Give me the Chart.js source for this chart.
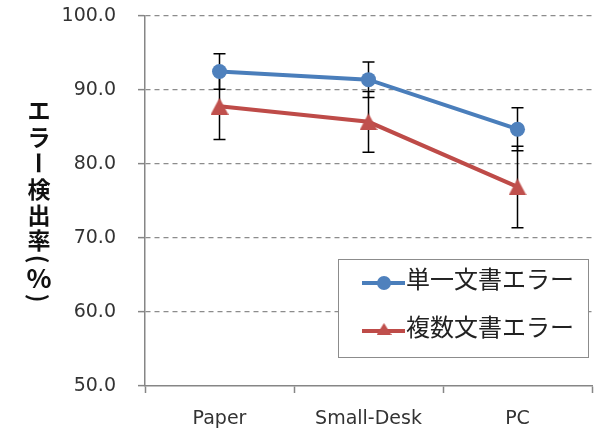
<!DOCTYPE html>
<html>
<head>
<meta charset="utf-8">
<script src="https://cdn.jsdelivr.net/npm/chart.js@4/dist/chart.umd.min.js"></script>
<style>
  html, body { margin: 0; padding: 0; background: #fff; }
  #wrap { width: 602px; height: 430px; position: relative; }
</style>
</head>
<body>
<div id="wrap"><canvas id="chart" width="602" height="430"></canvas></div>
<script>
// Detection rate per interface, with error bar half-widths
const categories    = ['Paper', 'Small-Desk', 'PC'];
const seriesNames   = ['単一文書エラー', '複数文書エラー'];
const singleDocRate = [92.5, 91.4, 84.7];
const singleDocErr  = [2.4, 2.4, 2.9];
const multiDocRate  = [87.8, 85.7, 76.9];
const multiDocErr   = [4.5, 4.1, 5.5];
const yTickValues   = [50, 60, 70, 80, 90, 100];
const yTitle        = 'エラー検出率(%)';

const BLUE_LINE = '#4a7ebb', BLUE_MARK = '#4f81bd';
const RED_LINE  = '#be4b48', RED_MARK  = '#c0504d';
const AXIS_GREY = '#868686';
const TEXT_COL  = '#333333';
const CJK = '"Noto Sans CJK JP", "Noto Sans CJK SC", sans-serif';

// Triangle marker centred in its own box
function triangleMarker(w, h, color) {
  const c = document.createElement('canvas');
  c.width = w; c.height = h;
  const g = c.getContext('2d');
  g.fillStyle = color;
  g.beginPath();
  g.moveTo(w / 2, 0);
  g.lineTo(w, h);
  g.lineTo(0, h);
  g.closePath();
  g.fill();
  return c;
}
const triPoint  = triangleMarker(18, 17, RED_MARK);
const triLegend = triangleMarker(15, 12, RED_MARK);

// Vertical error bars, drawn underneath the lines and markers
const errorBars = {
  id: 'errorBars',
  beforeDatasetsDraw(chart) {
    const { ctx, scales: { x, y } } = chart;
    ctx.save();
    ctx.strokeStyle = '#000';
    ctx.lineWidth = 1.5;
    chart.data.datasets.forEach(ds => {
      ds.errors.forEach((e, j) => {
        const px = x.getPixelForValue(j);
        const top = y.getPixelForValue(ds.data[j] + e);
        const bot = y.getPixelForValue(ds.data[j] - e);
        ctx.beginPath();
        ctx.moveTo(px, top); ctx.lineTo(px, bot);
        ctx.moveTo(px - 6, top); ctx.lineTo(px + 6, top);
        ctx.moveTo(px - 6, bot); ctx.lineTo(px + 6, bot);
        ctx.stroke();
      });
    });
    ctx.restore();
  }
};

// Stacked vertical axis title
const verticalTitle = {
  id: 'verticalTitle',
  afterDraw(chart) {
    const ctx = chart.ctx;
    const chars = Array.from(yTitle);
    const ys = [110, 137, 163, 189, 215, 240, 259, 278, 298];
    const rotated = new Set(['ー', '(', ')']);
    ctx.save();
    ctx.fillStyle = '#111';
    ctx.textAlign = 'center';
    ctx.textBaseline = 'middle';
    chars.forEach((ch, i) => {
      ctx.save();
      ctx.translate(39, ys[i]);
      if (rotated.has(ch)) ctx.rotate(Math.PI / 2);
      ctx.font = ch === '%' ? 'bold 26px ' + CJK : 'bold 23px ' + CJK;
      ctx.fillText(ch, 0, 0);
      ctx.restore();
    });
    ctx.restore();
  }
};

// Boxed legend inside the plot area
const boxLegend = {
  id: 'boxLegend',
  afterDraw(chart) {
    const ctx = chart.ctx;
    ctx.save();
    ctx.strokeStyle = '#8c8c8c';
    ctx.lineWidth = 1;
    ctx.fillStyle = '#fff';
    ctx.fillRect(338.5, 259.5, 250, 98);
    ctx.strokeRect(338.5, 259.5, 250, 98);
    const rows = [283, 331];
    chart.data.datasets.forEach((ds, i) => {
      const y = rows[i];
      ctx.strokeStyle = ds.borderColor;
      ctx.lineWidth = 4;
      ctx.beginPath();
      ctx.moveTo(362, y); ctx.lineTo(405, y);
      ctx.stroke();
      if (i === 0) {
        ctx.fillStyle = ds.pointBackgroundColor;
        ctx.beginPath();
        ctx.arc(384, y, 7, 0, Math.PI * 2);
        ctx.fill();
      } else {
        ctx.drawImage(triLegend, 384 - 7.5, y - 8);
      }
      ctx.fillStyle = '#222';
      ctx.font = '24px ' + CJK;
      ctx.textAlign = 'left';
      ctx.textBaseline = 'middle';
      ctx.fillText(ds.label, 406, y - 4);
    });
    ctx.restore();
  }
};

new Chart(document.getElementById('chart'), {
  type: 'line',
  data: {
    labels: categories,
    datasets: [
      {
        label: seriesNames[0],
        data: singleDocRate,
        errors: singleDocErr,
        borderColor: BLUE_LINE,
        borderWidth: 4,
        pointStyle: 'circle',
        pointRadius: 7.5,
        pointBackgroundColor: BLUE_MARK,
        pointBorderColor: BLUE_MARK,
        pointBorderWidth: 0,
        tension: 0
      },
      {
        label: seriesNames[1],
        data: multiDocRate,
        errors: multiDocErr,
        borderColor: RED_LINE,
        borderWidth: 4,
        pointStyle: triPoint,
        pointBackgroundColor: RED_MARK,
        tension: 0
      }
    ]
  },
  options: {
    responsive: false,
    devicePixelRatio: 1,
    animation: false,
    events: [],
    layout: { padding: { top: 16, right: 10, left: 0, bottom: 0 } },
    plugins: {
      legend: { display: false },
      tooltip: { enabled: false },
      title: { display: false }
    },
    scales: {
      x: {
        type: 'category',
        offset: true,
        grid: {
          offset: true,
          drawOnChartArea: false,
          drawTicks: true,
          tickLength: 7,
          tickColor: AXIS_GREY,
          tickWidth: 1.5
        },
        border: { color: AXIS_GREY, width: 1.5 },
        ticks: {
          padding: 15,
          color: TEXT_COL,
          font: { family: '"DejaVu Sans"', size: 19 }
        },
        afterFit(scale) {
          scale.height = 44;
          scale.paddingLeft = 0;
          scale.paddingRight = 0;
        }
      },
      y: {
        min: yTickValues[0],
        max: yTickValues[yTickValues.length - 1],
        afterBuildTicks(scale) { scale.ticks = yTickValues.map(v => ({ value: v })); },
        grid: {
          color: c => (c.tick && c.tick.value === yTickValues[0]) ? 'rgba(0,0,0,0)' : '#8c8c8c',
          lineWidth: 1.25,
          drawTicks: true,
          tickLength: 7,
          tickColor: AXIS_GREY,
          tickWidth: 1.5
        },
        border: { color: AXIS_GREY, width: 1.5, dash: [5, 4] },
        ticks: {
          padding: 22,
          color: TEXT_COL,
          font: { family: '"DejaVu Sans"', size: 19 },
          callback: v => Number(v).toFixed(1)
        },
        afterFit(scale) {
          scale.width = 145;
          scale.paddingTop = 0;
          scale.paddingBottom = 0;
        }
      }
    }
  },
  plugins: [errorBars, verticalTitle, boxLegend]
});
</script>
</body>
</html>
